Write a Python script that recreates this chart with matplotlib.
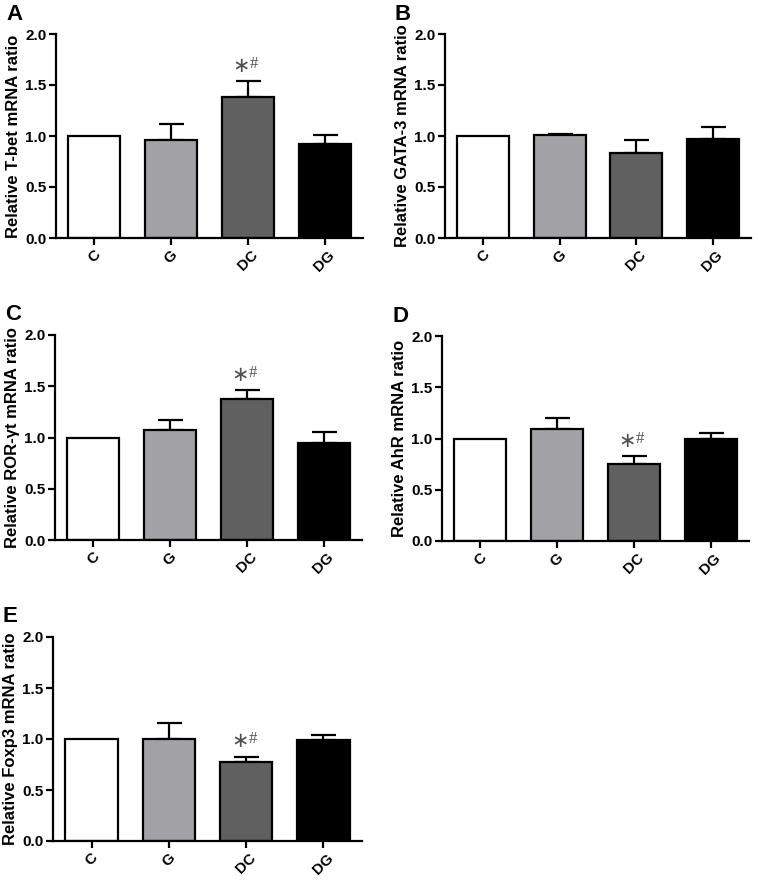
import numpy as np
import matplotlib
matplotlib.use("Agg")
import matplotlib.pyplot as plt

plt.rcParams['font.family'] = ['Liberation Sans', 'DejaVu Sans']

groups = ['C', 'G', 'DC', 'DG']
colors = ['#ffffff', '#a2a2a6', '#606060', '#000000']

# mean and upper error (SEM) per panel
tbet = [1.00, 0.96, 1.385, 0.92]
tbet_err = [0.0, 0.155, 0.15, 0.09]
gata3 = [1.00, 1.01, 0.835, 0.97]
gata3_err = [0.0, 0.012, 0.125, 0.12]
rorgt = [1.00, 1.075, 1.38, 0.943]
rorgt_err = [0.0, 0.095, 0.083, 0.107]
ahr = [1.00, 1.096, 0.748, 0.998]
ahr_err = [0.0, 0.104, 0.078, 0.059]
foxp3 = [1.00, 0.997, 0.77, 0.99]
foxp3_err = [0.0, 0.157, 0.056, 0.05]

panels = [
    ('A', 'Relative T-bet mRNA ratio', tbet, tbet_err, True, (56, 363, 34, 238)),
    ('B', 'Relative GATA-3 mRNA ratio', gata3, gata3_err, False, (445, 751, 34, 238)),
    ('C', 'Relative ROR-\u03b3t mRNA ratio', rorgt, rorgt_err, True, (55, 362, 335, 540)),
    ('D', 'Relative AhR mRNA ratio', ahr, ahr_err, True, (442, 749, 336, 541)),
    ('E', 'Relative Foxp3 mRNA ratio', foxp3, foxp3_err, True, (53, 362, 637, 841)),
]

W, H = 758, 882
fig = plt.figure(figsize=(W / 100, H / 100), dpi=100)

for letter, label, vals, errs, mark, (x0, x1, y0, y1) in panels:
    ax = fig.add_axes([x0 / W, (H - y1) / H, (x1 - x0) / W, (y1 - y0) / H])
    x = np.arange(len(groups))
    ax.bar(x, vals, width=0.68, color=colors, edgecolor='black', linewidth=1.6, zorder=2)
    for xi, v, e in zip(x, vals, errs):
        if e > 0:
            ax.errorbar(xi, v, yerr=[[0], [e]], fmt='none', ecolor='black',
                        elinewidth=1.6, capsize=9, capthick=1.6, zorder=1)
    if mark:
        top = vals[2] + errs[2] + 0.15
        ax.text(2.03, top, '\u2217', fontsize=15, family='DejaVu Sans', color='#505050',
                ha='right', va='center')
        ax.text(2.03, top + 0.02, '#', fontsize=12, family='Liberation Serif', color='#505050',
                ha='left', va='center')
    ax.set_xlim(-0.5, 3.5)
    ax.set_ylim(0, 2.0)
    ax.set_yticks([0, 0.5, 1.0, 1.5, 2.0])
    ax.set_yticklabels(['0.0', '0.5', '1.0', '1.5', '2.0'], fontweight='bold', fontsize=11)
    ax.set_xticks(x)
    ax.set_xticklabels(groups, rotation=45, fontweight='bold', fontsize=11,
                       ha='center', va='top')
    ax.set_ylabel(label, fontweight='bold', fontsize=12, labelpad=3)
    for s in ['top', 'right']:
        ax.spines[s].set_visible(False)
    for s in ['left', 'bottom']:
        ax.spines[s].set_linewidth(1.6)
    ax.tick_params(axis='both', width=1.6, length=5, direction='out', pad=2)
    ax.text(x0 / W - 50 / W, (H - y0) / H + 20 / H, letter, transform=fig.transFigure,
            fontsize=16, fontweight='bold', ha='left', va='center')

fig.savefig('out.png', dpi=100)
